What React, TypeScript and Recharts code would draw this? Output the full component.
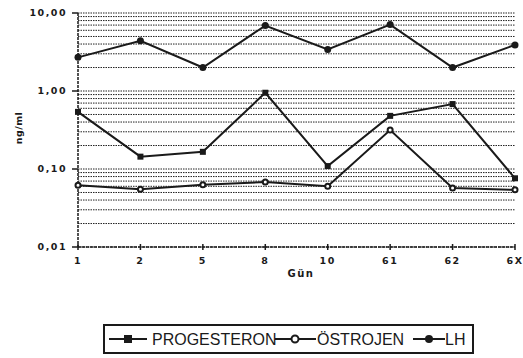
import { LineChart, Line, XAxis, YAxis, CartesianGrid } from 'recharts';

const days = ['1', '2', '5', '8', '10', '61', '62', '6X'];
const progesteron = [0.54, 0.144, 0.166, 0.95, 0.109, 0.48, 0.68, 0.076];
const ostrojen = [0.062, 0.055, 0.063, 0.068, 0.06, 0.316, 0.057, 0.054];
const lh = [2.7, 4.4, 2.0, 6.9, 3.4, 7.1, 2.0, 3.9];

const decades = [0.01, 0.1, 1, 10];
const decadeLabels = ['0,01', '0,10', '1,00', '10,00'];
const minorTicks = [
  0.01, 0.02, 0.03, 0.04, 0.05, 0.06, 0.07, 0.08, 0.09,
  0.1, 0.2, 0.3, 0.4, 0.5, 0.6, 0.7, 0.8, 0.9,
  1, 2, 3, 4, 5, 6, 7, 8, 9, 10,
];

const data = days.map((d, i) => ({
  day: d,
  progesteron: progesteron[i],
  ostrojen: ostrojen[i],
  lh: lh[i],
}));

const ink = '#1a1a1a';
const tickFont = { fontFamily: 'DejaVu Sans', fontSize: 9.5, fontWeight: 700, fill: ink, letterSpacing: 1.5 };

function YTick(props: any) {
  const { x, y, payload } = props;
  const idx = decades.findIndex((v) => Math.abs(v - payload.value) < 1e-9);
  if (idx < 0) return null;
  return (
    <g>
      <line x1={x - 6} x2={x} y1={y} y2={y} stroke={ink} strokeWidth={1.5} />
      <text x={x - 11} y={y + 3} textAnchor="end" {...tickFont}>
        {decadeLabels[idx]}
      </text>
    </g>
  );
}

function XTick(props: any) {
  const { x, y, payload } = props;
  return (
    <g>
      <line x1={x} x2={x} y1={y - 3} y2={y + 3} stroke={ink} strokeWidth={1.5} />
      <text x={x} y={y + 17} textAnchor="middle" {...tickFont}>
        {payload.value}
      </text>
    </g>
  );
}

function SquareDot(props: any) {
  const { cx, cy } = props;
  return <rect x={cx - 3} y={cy - 3} width={6} height={6} fill={ink} />;
}

function OpenDot(props: any) {
  const { cx, cy } = props;
  return <circle cx={cx} cy={cy} r={2.5} fill="#fff" stroke={ink} strokeWidth={2} />;
}

function FilledDot(props: any) {
  const { cx, cy } = props;
  return <circle cx={cx} cy={cy} r={3.5} fill={ink} />;
}

function LegendBox() {
  const t = { fontFamily: 'Liberation Sans', fontSize: 16, fill: ink };
  return (
    <svg
      width={371}
      height={30}
      style={{ position: 'absolute', left: 103, top: 324 }}
    >
      <rect x={1} y={1} width={369} height={28} fill="#fff" stroke={ink} strokeWidth={2} />
      {/* PROGESTERON */}
      <line x1={6} x2={44} y1={15} y2={15} stroke={ink} strokeWidth={2} />
      <rect x={21} y={11} width={8} height={8} fill={ink} />
      <text x={49} y={21} {...t}>PROGESTERON</text>
      {/* ÖSTROJEN */}
      <line x1={172} x2={213} y1={15} y2={15} stroke={ink} strokeWidth={2} />
      <circle cx={192} cy={15} r={3.5} fill="#fff" stroke={ink} strokeWidth={2} />
      <text x={214} y={21} {...t}>ÖSTROJEN</text>
      {/* LH */}
      <line x1={310} x2={342} y1={15} y2={15} stroke={ink} strokeWidth={2} />
      <circle cx={326} cy={15} r={4} fill={ink} />
      <text x={342} y={21} {...t}>LH</text>
    </svg>
  );
}

export default function App() {
  return (
    <div style={{ position: 'absolute', left: 0, top: 0, width: 523, height: 358, background: '#fff' }}>
      <LineChart
        width={523}
        height={358}
        data={data}
        margin={{ top: 13, right: 8, bottom: 71, left: 0 }}
      >
        <CartesianGrid
          vertical={false}
          stroke="#222"
          strokeDasharray="1.5 1"
          strokeWidth={1}
        />
        <XAxis
          dataKey="day"
          height={40}
          axisLine={{ stroke: ink, strokeWidth: 1.5, strokeDasharray: '3 1' }}
          tickLine={false}
          tickSize={0}
          tickMargin={0}
          interval={0}
          tick={<XTick />}
          label={{
            content: () => (
              <text x={301} y={277} textAnchor="middle" {...tickFont} fontSize={10}>
                Gün
              </text>
            ),
          }}
        />
        <YAxis
          width={78}
          scale="log"
          domain={[0.01, 10]}
          allowDataOverflow
          ticks={minorTicks}
          interval={0}
          axisLine={{ stroke: ink, strokeWidth: 1.5, strokeDasharray: '3 1' }}
          tickLine={false}
          tickSize={0}
          tickMargin={0}
          tick={<YTick />}
          label={{
            content: () => (
              <text
                x={22}
                y={128}
                textAnchor="middle"
                transform="rotate(-90 22 128)"
                {...tickFont}
                letterSpacing={0.5}
              >
                ng/ml
              </text>
            ),
          }}
        />
        <Line
          dataKey="lh"
          name="LH"
          stroke={ink}
          strokeWidth={2}
          dot={<FilledDot />}
          isAnimationActive={false}
        />
        <Line
          dataKey="progesteron"
          name="PROGESTERON"
          stroke={ink}
          strokeWidth={2}
          dot={<SquareDot />}
          isAnimationActive={false}
        />
        <Line
          dataKey="ostrojen"
          name="ÖSTROJEN"
          stroke={ink}
          strokeWidth={2}
          dot={<OpenDot />}
          isAnimationActive={false}
        />
      </LineChart>
      <LegendBox />
    </div>
  );
}
